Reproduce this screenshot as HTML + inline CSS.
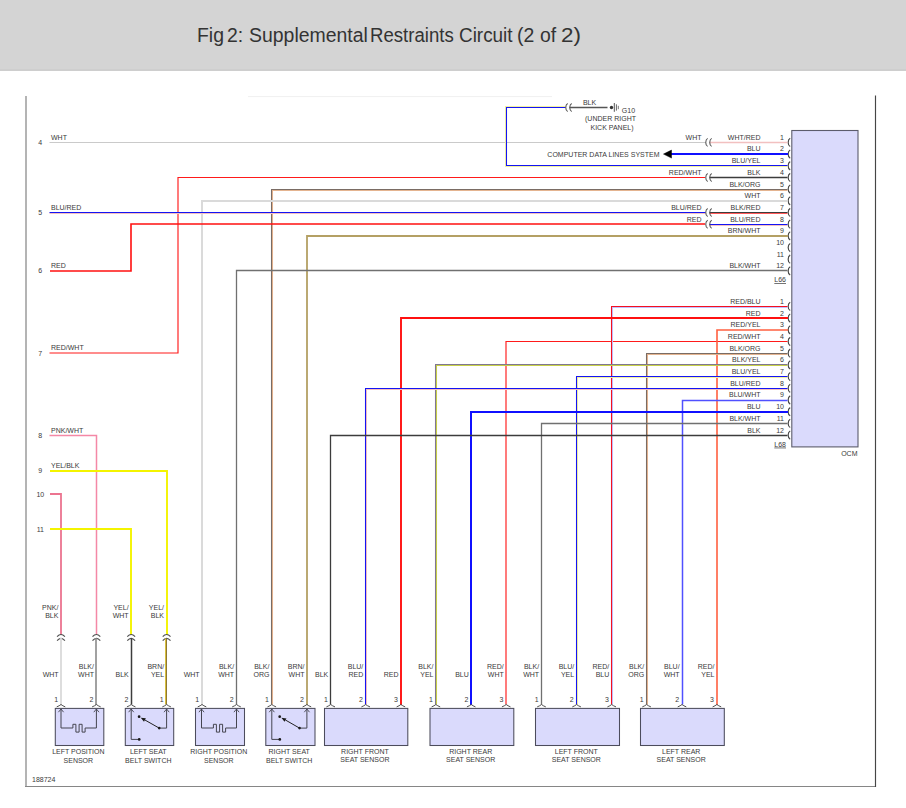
<!DOCTYPE html>
<html><head><meta charset="utf-8"><title>Fig 2: Supplemental Restraints Circuit (2 of 2)</title>
<style>
html,body{margin:0;padding:0;background:#fff;width:906px;height:808px;overflow:hidden}
.hdr{position:absolute;left:0;top:0;width:906px;height:71px;background:#d4d4d4;box-shadow:inset 0 -2px 0 #cecece}
.hdr h1{position:absolute;left:0;top:25px;margin:0;font:normal 20px/1 "Liberation Sans",sans-serif;color:#333;white-space:nowrap}
.hdr h1 span{position:absolute;top:0;transform:scaleX(0.945);transform-origin:0 0}
svg{position:absolute;left:0;top:0}
svg text{font-family:"Liberation Sans",sans-serif}
</style></head><body>
<div class="hdr"><h1><span style="left:197.2px;transform:scaleX(0.97)">Fig</span><span style="left:227.0px;transform:scaleX(0.97)">2:</span><span style="left:248.5px;transform:scaleX(0.972)">Supplemental</span><span style="left:370.0px;transform:scaleX(0.93)">Restraints</span><span style="left:458.8px;transform:scaleX(0.945)">Circuit</span><span style="left:516.5px;transform:scaleX(0.97)">(2</span><span style="left:539.5px;transform:scaleX(0.97)">of</span><span style="left:560.5px;transform:scaleX(1.12)">2)</span></h1></div>
<svg width="906" height="808" viewBox="0 0 906 808">
<line x1="26" y1="96" x2="26" y2="787" stroke="#b4b4b4" stroke-width="2"/>
<line x1="25" y1="786.5" x2="876" y2="786.5" stroke="#868686" stroke-width="1.2"/>
<line x1="875.5" y1="95.5" x2="875.5" y2="787" stroke="#464646" stroke-width="1.15"/>
<line x1="248" y1="96.6" x2="552" y2="96.6" stroke="#f0f0f0" stroke-width="1.0"/>
<rect x="791.8" y="130.5" width="66.2" height="316.4" fill="#dadafc" stroke="#5c5c6c" stroke-width="1.1"/>
<text x="857.5" y="456.2" text-anchor="end" font-size="7" fill="#3a3a3a" >OCM</text>
<text x="786" y="282.3" text-anchor="end" font-size="7" fill="#3a3a3a" text-decoration="underline">L66</text>
<text x="786" y="446.6" text-anchor="end" font-size="7" fill="#3a3a3a" text-decoration="underline">L68</text>
<path d="M790.2,138.30 A2.9,4.3 0 0,0 790.2,146.50" fill="none" stroke="#484848" stroke-width="1.2"/>
<text x="784" y="139.8" text-anchor="end" font-size="7" fill="#3a3a3a" >1</text>
<text x="760.5" y="139.8" text-anchor="end" font-size="7" fill="#3a3a3a" >WHT/RED</text>
<path d="M790.2,302.30 A2.9,4.3 0 0,0 790.2,310.50" fill="none" stroke="#484848" stroke-width="1.2"/>
<text x="784" y="303.79999999999995" text-anchor="end" font-size="7" fill="#3a3a3a" >1</text>
<text x="760.5" y="303.79999999999995" text-anchor="end" font-size="7" fill="#3a3a3a" >RED/BLU</text>
<path d="M790.2,149.98 A2.9,4.3 0 0,0 790.2,158.18" fill="none" stroke="#484848" stroke-width="1.2"/>
<text x="784" y="151.48000000000002" text-anchor="end" font-size="7" fill="#3a3a3a" >2</text>
<text x="760.5" y="151.48000000000002" text-anchor="end" font-size="7" fill="#3a3a3a" >BLU</text>
<path d="M790.2,314.00 A2.9,4.3 0 0,0 790.2,322.20" fill="none" stroke="#484848" stroke-width="1.2"/>
<text x="784" y="315.5" text-anchor="end" font-size="7" fill="#3a3a3a" >2</text>
<text x="760.5" y="315.5" text-anchor="end" font-size="7" fill="#3a3a3a" >RED</text>
<path d="M790.2,161.66 A2.9,4.3 0 0,0 790.2,169.86" fill="none" stroke="#484848" stroke-width="1.2"/>
<text x="784" y="163.16" text-anchor="end" font-size="7" fill="#3a3a3a" >3</text>
<text x="760.5" y="163.16" text-anchor="end" font-size="7" fill="#3a3a3a" >BLU/YEL</text>
<path d="M790.2,325.70 A2.9,4.3 0 0,0 790.2,333.90" fill="none" stroke="#484848" stroke-width="1.2"/>
<text x="784" y="327.2" text-anchor="end" font-size="7" fill="#3a3a3a" >3</text>
<text x="760.5" y="327.2" text-anchor="end" font-size="7" fill="#3a3a3a" >RED/YEL</text>
<path d="M790.2,173.34 A2.9,4.3 0 0,0 790.2,181.54" fill="none" stroke="#484848" stroke-width="1.2"/>
<text x="784" y="174.84" text-anchor="end" font-size="7" fill="#3a3a3a" >4</text>
<text x="760.5" y="174.84" text-anchor="end" font-size="7" fill="#3a3a3a" >BLK</text>
<path d="M790.2,337.40 A2.9,4.3 0 0,0 790.2,345.60" fill="none" stroke="#484848" stroke-width="1.2"/>
<text x="784" y="338.9" text-anchor="end" font-size="7" fill="#3a3a3a" >4</text>
<text x="760.5" y="338.9" text-anchor="end" font-size="7" fill="#3a3a3a" >RED/WHT</text>
<path d="M790.2,185.02 A2.9,4.3 0 0,0 790.2,193.22" fill="none" stroke="#484848" stroke-width="1.2"/>
<text x="784" y="186.52" text-anchor="end" font-size="7" fill="#3a3a3a" >5</text>
<text x="760.5" y="186.52" text-anchor="end" font-size="7" fill="#3a3a3a" >BLK/ORG</text>
<path d="M790.2,349.10 A2.9,4.3 0 0,0 790.2,357.30" fill="none" stroke="#484848" stroke-width="1.2"/>
<text x="784" y="350.59999999999997" text-anchor="end" font-size="7" fill="#3a3a3a" >5</text>
<text x="760.5" y="350.59999999999997" text-anchor="end" font-size="7" fill="#3a3a3a" >BLK/ORG</text>
<path d="M790.2,196.70 A2.9,4.3 0 0,0 790.2,204.90" fill="none" stroke="#484848" stroke-width="1.2"/>
<text x="784" y="198.20000000000002" text-anchor="end" font-size="7" fill="#3a3a3a" >6</text>
<text x="760.5" y="198.20000000000002" text-anchor="end" font-size="7" fill="#3a3a3a" >WHT</text>
<path d="M790.2,360.80 A2.9,4.3 0 0,0 790.2,369.00" fill="none" stroke="#484848" stroke-width="1.2"/>
<text x="784" y="362.29999999999995" text-anchor="end" font-size="7" fill="#3a3a3a" >6</text>
<text x="760.5" y="362.29999999999995" text-anchor="end" font-size="7" fill="#3a3a3a" >BLK/YEL</text>
<path d="M790.2,208.38 A2.9,4.3 0 0,0 790.2,216.58" fill="none" stroke="#484848" stroke-width="1.2"/>
<text x="784" y="209.88" text-anchor="end" font-size="7" fill="#3a3a3a" >7</text>
<text x="760.5" y="209.88" text-anchor="end" font-size="7" fill="#3a3a3a" >BLK/RED</text>
<path d="M790.2,372.50 A2.9,4.3 0 0,0 790.2,380.70" fill="none" stroke="#484848" stroke-width="1.2"/>
<text x="784" y="374.0" text-anchor="end" font-size="7" fill="#3a3a3a" >7</text>
<text x="760.5" y="374.0" text-anchor="end" font-size="7" fill="#3a3a3a" >BLU/YEL</text>
<path d="M790.2,220.06 A2.9,4.3 0 0,0 790.2,228.26" fill="none" stroke="#484848" stroke-width="1.2"/>
<text x="784" y="221.56" text-anchor="end" font-size="7" fill="#3a3a3a" >8</text>
<text x="760.5" y="221.56" text-anchor="end" font-size="7" fill="#3a3a3a" >BLU/RED</text>
<path d="M790.2,384.20 A2.9,4.3 0 0,0 790.2,392.40" fill="none" stroke="#484848" stroke-width="1.2"/>
<text x="784" y="385.7" text-anchor="end" font-size="7" fill="#3a3a3a" >8</text>
<text x="760.5" y="385.7" text-anchor="end" font-size="7" fill="#3a3a3a" >BLU/RED</text>
<path d="M790.2,231.74 A2.9,4.3 0 0,0 790.2,239.94" fill="none" stroke="#484848" stroke-width="1.2"/>
<text x="784" y="233.24" text-anchor="end" font-size="7" fill="#3a3a3a" >9</text>
<text x="760.5" y="233.24" text-anchor="end" font-size="7" fill="#3a3a3a" >BRN/WHT</text>
<path d="M790.2,395.90 A2.9,4.3 0 0,0 790.2,404.10" fill="none" stroke="#484848" stroke-width="1.2"/>
<text x="784" y="397.4" text-anchor="end" font-size="7" fill="#3a3a3a" >9</text>
<text x="760.5" y="397.4" text-anchor="end" font-size="7" fill="#3a3a3a" >BLU/WHT</text>
<path d="M790.2,243.42 A2.9,4.3 0 0,0 790.2,251.62" fill="none" stroke="#484848" stroke-width="1.2"/>
<text x="784" y="244.92000000000002" text-anchor="end" font-size="7" fill="#3a3a3a" >10</text>
<path d="M790.2,407.60 A2.9,4.3 0 0,0 790.2,415.80" fill="none" stroke="#484848" stroke-width="1.2"/>
<text x="784" y="409.09999999999997" text-anchor="end" font-size="7" fill="#3a3a3a" >10</text>
<text x="760.5" y="409.09999999999997" text-anchor="end" font-size="7" fill="#3a3a3a" >BLU</text>
<path d="M790.2,255.10 A2.9,4.3 0 0,0 790.2,263.30" fill="none" stroke="#484848" stroke-width="1.2"/>
<text x="784" y="256.59999999999997" text-anchor="end" font-size="7" fill="#3a3a3a" >11</text>
<path d="M790.2,419.30 A2.9,4.3 0 0,0 790.2,427.50" fill="none" stroke="#484848" stroke-width="1.2"/>
<text x="784" y="420.79999999999995" text-anchor="end" font-size="7" fill="#3a3a3a" >11</text>
<text x="760.5" y="420.79999999999995" text-anchor="end" font-size="7" fill="#3a3a3a" >BLK/WHT</text>
<path d="M790.2,266.78 A2.9,4.3 0 0,0 790.2,274.98" fill="none" stroke="#484848" stroke-width="1.2"/>
<text x="784" y="268.28" text-anchor="end" font-size="7" fill="#3a3a3a" >12</text>
<text x="760.5" y="268.28" text-anchor="end" font-size="7" fill="#3a3a3a" >BLK/WHT</text>
<path d="M790.2,431.00 A2.9,4.3 0 0,0 790.2,439.20" fill="none" stroke="#484848" stroke-width="1.2"/>
<text x="784" y="432.5" text-anchor="end" font-size="7" fill="#3a3a3a" >12</text>
<text x="760.5" y="432.5" text-anchor="end" font-size="7" fill="#3a3a3a" >BLK</text>
<polyline points="709.5,142.5 787.5,142.5" fill="none" stroke="#f2c0c0" stroke-width="1.5"/>
<polyline points="49.5,142.5 705.5,142.5" fill="none" stroke="#cacaca" stroke-width="1.2"/>
<path d="M707.70,138.40 A2.8,4.2 0 0,0 707.70,146.40" fill="none" stroke="#505050" stroke-width="1.05"/>
<path d="M711.70,138.40 A2.8,4.2 0 0,0 711.70,146.40" fill="none" stroke="#505050" stroke-width="1.05"/>
<text x="701.5" y="139.8" text-anchor="end" font-size="7" fill="#3a3a3a" >WHT</text>
<polyline points="668,154 788,154" fill="none" stroke="#1010ff" stroke-width="2.0"/>
<path d="M663.5,154.08 L671.5,150.08 L671.5,158.08 Z" fill="#000" stroke="#000" stroke-width="0.5"/>
<text x="659.5" y="156.68" text-anchor="end" font-size="7" fill="#3a3a3a" >COMPUTER DATA LINES SYSTEM</text>
<polyline points="787.5,166.5 505.5,166.5 505.5,106.5 565.5,106.5" fill="none" stroke="#f0f0a0" stroke-width="1.05"/>
<polyline points="787.5,165.5 506.5,165.5 506.5,107.5 565.5,107.5" fill="none" stroke="#1414f4" stroke-width="1.05"/>
<path d="M567.70,103.50 A2.8,4.2 0 0,0 567.70,111.50" fill="none" stroke="#505050" stroke-width="1.05"/>
<path d="M571.70,103.50 A2.8,4.2 0 0,0 571.70,111.50" fill="none" stroke="#505050" stroke-width="1.05"/>
<polyline points="569.5,107.5 607.5,107.5" fill="none" stroke="#555" stroke-width="1.3"/>
<circle cx="611.5" cy="107.5" r="1.7" fill="#333"/>
<line x1="614.3" y1="103.0" x2="614.3" y2="111.8" stroke="#555" stroke-width="1.0"/>
<line x1="616.4" y1="104.3" x2="616.4" y2="110.6" stroke="#666" stroke-width="1.0"/>
<line x1="618.3" y1="105.8" x2="618.3" y2="109.2" stroke="#777" stroke-width="1.0"/>
<text x="589.5" y="105.2" text-anchor="middle" font-size="7" fill="#3a3a3a" >BLK</text>
<text x="621.8" y="113.2" text-anchor="start" font-size="7" fill="#3a3a3a" >G10</text>
<text x="610.5" y="121.2" text-anchor="middle" font-size="7" fill="#3a3a3a" >(UNDER RIGHT</text>
<text x="612" y="130" text-anchor="middle" font-size="7" fill="#3a3a3a" >KICK PANEL)</text>
<polyline points="709.5,177.5 787.5,177.5" fill="none" stroke="#3c3c3c" stroke-width="1.4"/>
<polyline points="705,177.5 178.0,177.5 178.0,353.0 49.5,353.0" fill="none" stroke="#ff1a1a" stroke-width="1.15"/>
<path d="M707.70,173.44 A2.8,4.2 0 0,0 707.70,181.44" fill="none" stroke="#505050" stroke-width="1.05"/>
<path d="M711.70,173.44 A2.8,4.2 0 0,0 711.70,181.44" fill="none" stroke="#505050" stroke-width="1.05"/>
<text x="701.5" y="174.84" text-anchor="end" font-size="7" fill="#3a3a3a" >RED/WHT</text>
<polyline points="787.5,190.5 272.5,190.5 272.5,704.5" fill="none" stroke="#e4b490" stroke-width="1.05"/>
<polyline points="787.5,189.5 271.5,189.5 271.5,704.5" fill="none" stroke="#7a6c64" stroke-width="1.05"/>
<polyline points="788,201 202,201 202,705" fill="none" stroke="#dadada" stroke-width="2.0"/>
<polyline points="787.5,213.5 709.5,213.5" fill="none" stroke="#ff5a5a" stroke-width="1.05"/>
<polyline points="787.5,212.5 709.5,212.5" fill="none" stroke="#3c3c3c" stroke-width="1.05"/>
<polyline points="705.5,213.5 49.5,213.5" fill="none" stroke="#f4c0c0" stroke-width="1.05"/>
<polyline points="705.5,212.5 49.5,212.5" fill="none" stroke="#1414f4" stroke-width="1.05"/>
<path d="M707.70,208.48 A2.8,4.2 0 0,0 707.70,216.48" fill="none" stroke="#505050" stroke-width="1.05"/>
<path d="M711.70,208.48 A2.8,4.2 0 0,0 711.70,216.48" fill="none" stroke="#505050" stroke-width="1.05"/>
<text x="701.5" y="209.88" text-anchor="end" font-size="7" fill="#3a3a3a" >BLU/RED</text>
<polyline points="787.5,225.5 709.5,225.5" fill="none" stroke="#f4c0c0" stroke-width="1.05"/>
<polyline points="787.5,224.5 709.5,224.5" fill="none" stroke="#1414f4" stroke-width="1.05"/>
<polyline points="705,224 131,224 131,271 50,271" fill="none" stroke="#ff1010" stroke-width="1.6"/>
<path d="M707.70,220.16 A2.8,4.2 0 0,0 707.70,228.16" fill="none" stroke="#505050" stroke-width="1.05"/>
<path d="M711.70,220.16 A2.8,4.2 0 0,0 711.70,228.16" fill="none" stroke="#505050" stroke-width="1.05"/>
<text x="701.5" y="221.56" text-anchor="end" font-size="7" fill="#3a3a3a" >RED</text>
<polyline points="788,236 307,236 307,705" fill="none" stroke="#b4a064" stroke-width="1.8"/>
<polyline points="787.5,270.5 236.5,270.5 236.5,704.5" fill="none" stroke="#707070" stroke-width="1.3"/>
<polyline points="787.5,341.5 506.0,341.5 506.0,704.6" fill="none" stroke="#ff1a1a" stroke-width="1.15"/>
<polyline points="787.5,307.5 612.5,307.5 612.5,704.5" fill="none" stroke="#c0c0ff" stroke-width="1.05"/>
<polyline points="787.5,306.5 611.5,306.5 611.5,704.5" fill="none" stroke="#f41020" stroke-width="1.05"/>
<polyline points="788,318 401,318 401,705" fill="none" stroke="#ff1010" stroke-width="1.9"/>
<polyline points="788,330 717,330 717,705" fill="none" stroke="#ff6040" stroke-width="1.6"/>
<polyline points="787.5,354.5 647.5,354.5 647.5,704.5" fill="none" stroke="#e4b490" stroke-width="1.05"/>
<polyline points="787.5,353.5 646.5,353.5 646.5,704.5" fill="none" stroke="#7a6c64" stroke-width="1.05"/>
<polyline points="787.5,365.5 436.5,365.5 436.5,704.5" fill="none" stroke="#c8d048" stroke-width="1.05"/>
<polyline points="787.5,364.5 435.5,364.5 435.5,704.5" fill="none" stroke="#807890" stroke-width="1.05"/>
<polyline points="787.5,377.5 577.5,377.5 577.5,704.5" fill="none" stroke="#f0f0a0" stroke-width="1.05"/>
<polyline points="787.5,376.5 576.5,376.5 576.5,704.5" fill="none" stroke="#1414f4" stroke-width="1.05"/>
<polyline points="787.5,389.5 366.5,389.5 366.5,704.5" fill="none" stroke="#f4c0c0" stroke-width="1.05"/>
<polyline points="787.5,388.5 365.5,388.5 365.5,704.5" fill="none" stroke="#1414f4" stroke-width="1.05"/>
<polyline points="787.5,400.5 682.5,400.5 682.5,704.5" fill="none" stroke="#5050ff" stroke-width="1.5"/>
<polyline points="788,412 471,412 471,705" fill="none" stroke="#1010ff" stroke-width="2.0"/>
<polyline points="787.5,423.5 541.5,423.5 541.5,704.5" fill="none" stroke="#707070" stroke-width="1.3"/>
<polyline points="787.5,435.5 330.5,435.5 330.5,704.5" fill="none" stroke="#3c3c3c" stroke-width="1.3"/>
<text x="40.3" y="145.0" text-anchor="middle" font-size="7" fill="#3a3a3a" >4</text>
<text x="51" y="139.8" text-anchor="start" font-size="7" fill="#3a3a3a" >WHT</text>
<text x="40.3" y="215.07999999999998" text-anchor="middle" font-size="7" fill="#3a3a3a" >5</text>
<text x="51" y="209.88" text-anchor="start" font-size="7" fill="#3a3a3a" >BLU/RED</text>
<text x="40.3" y="273.40000000000003" text-anchor="middle" font-size="7" fill="#3a3a3a" >6</text>
<text x="51" y="268.2" text-anchor="start" font-size="7" fill="#3a3a3a" >RED</text>
<text x="40.3" y="355.6" text-anchor="middle" font-size="7" fill="#3a3a3a" >7</text>
<text x="51" y="350.4" text-anchor="start" font-size="7" fill="#3a3a3a" >RED/WHT</text>
<text x="40.3" y="437.90000000000003" text-anchor="middle" font-size="7" fill="#3a3a3a" >8</text>
<text x="51" y="432.7" text-anchor="start" font-size="7" fill="#3a3a3a" >PNK/WHT</text>
<text x="40.3" y="473.1" text-anchor="middle" font-size="7" fill="#3a3a3a" >9</text>
<text x="51" y="467.9" text-anchor="start" font-size="7" fill="#3a3a3a" >YEL/BLK</text>
<text x="40.3" y="496.6" text-anchor="middle" font-size="7" fill="#3a3a3a" >10</text>
<text x="40.3" y="531.8000000000001" text-anchor="middle" font-size="7" fill="#3a3a3a" >11</text>
<polyline points="49.5,435.5 96.5,435.5 96.5,634.5" fill="none" stroke="#f488a6" stroke-width="1.5"/>
<polyline points="50,471 167,471 167,635" fill="none" stroke="#f4f400" stroke-width="1.9"/>
<polyline points="50,494 61,494 61,635" fill="none" stroke="#ec7490" stroke-width="1.8"/>
<polyline points="50,529 131,529 131,635" fill="none" stroke="#f4f400" stroke-width="1.9"/>
<path d="M57.1,636.7 Q61.0,632.3 64.9,636.7" fill="none" stroke="#505050" stroke-width="1.15"/>
<path d="M57.1,640.6 Q61.0,636.0 64.9,640.6" fill="none" stroke="#505050" stroke-width="1.15"/>
<path d="M92.5,636.7 Q96.4,632.3 100.30000000000001,636.7" fill="none" stroke="#505050" stroke-width="1.15"/>
<path d="M92.5,640.6 Q96.4,636.0 100.30000000000001,640.6" fill="none" stroke="#505050" stroke-width="1.15"/>
<path d="M127.29999999999998,636.7 Q131.2,632.3 135.1,636.7" fill="none" stroke="#505050" stroke-width="1.15"/>
<path d="M127.29999999999998,640.6 Q131.2,636.0 135.1,640.6" fill="none" stroke="#505050" stroke-width="1.15"/>
<path d="M162.7,636.7 Q166.6,632.3 170.5,636.7" fill="none" stroke="#505050" stroke-width="1.15"/>
<path d="M162.7,640.6 Q166.6,636.0 170.5,640.6" fill="none" stroke="#505050" stroke-width="1.15"/>
<polyline points="61,638 61,705" fill="none" stroke="#dadada" stroke-width="1.8"/>
<polyline points="96,638 96,705" fill="none" stroke="#8a8a8a" stroke-width="1.6"/>
<polyline points="131.5,638.5 131.5,704.5" fill="none" stroke="#3c3c3c" stroke-width="1.5"/>
<polyline points="165.5,704.5 165.5,638.5" fill="none" stroke="#d8c040" stroke-width="1.05"/>
<polyline points="166.5,704.5 166.5,638.5" fill="none" stroke="#907830" stroke-width="1.05"/>
<text x="58.4" y="610.2" text-anchor="end" font-size="7" fill="#3a3a3a" >PNK/</text>
<text x="58.4" y="618.2" text-anchor="end" font-size="7" fill="#3a3a3a" >BLK</text>
<text x="128.6" y="610.2" text-anchor="end" font-size="7" fill="#3a3a3a" >YEL/</text>
<text x="128.6" y="618.2" text-anchor="end" font-size="7" fill="#3a3a3a" >WHT</text>
<text x="164.0" y="610.2" text-anchor="end" font-size="7" fill="#3a3a3a" >YEL/</text>
<text x="164.0" y="618.2" text-anchor="end" font-size="7" fill="#3a3a3a" >BLK</text>
<text x="58.6" y="677.2" text-anchor="end" font-size="7" fill="#3a3a3a" >WHT</text>
<text x="58.1" y="702" text-anchor="end" font-size="7" fill="#3a3a3a" >1</text>
<path d="M56.7,706.9 Q59.4,705.8 61.0,704.5 Q62.6,705.8 65.3,706.9" fill="none" stroke="#505050" stroke-width="1.0"/>
<text x="94.0" y="669.3" text-anchor="end" font-size="7" fill="#3a3a3a" >BLK/</text>
<text x="94.0" y="677.2" text-anchor="end" font-size="7" fill="#3a3a3a" >WHT</text>
<text x="93.5" y="702" text-anchor="end" font-size="7" fill="#3a3a3a" >2</text>
<path d="M92.10000000000001,706.9 Q94.80000000000001,705.8 96.4,704.5 Q98.0,705.8 100.7,706.9" fill="none" stroke="#505050" stroke-width="1.0"/>
<text x="128.79999999999998" y="677.2" text-anchor="end" font-size="7" fill="#3a3a3a" >BLK</text>
<text x="128.29999999999998" y="702" text-anchor="end" font-size="7" fill="#3a3a3a" >2</text>
<path d="M126.89999999999999,706.9 Q129.6,705.8 131.2,704.5 Q132.79999999999998,705.8 135.5,706.9" fill="none" stroke="#505050" stroke-width="1.0"/>
<text x="164.2" y="669.3" text-anchor="end" font-size="7" fill="#3a3a3a" >BRN/</text>
<text x="164.2" y="677.2" text-anchor="end" font-size="7" fill="#3a3a3a" >YEL</text>
<text x="163.7" y="702" text-anchor="end" font-size="7" fill="#3a3a3a" >1</text>
<path d="M162.29999999999998,706.9 Q165.0,705.8 166.6,704.5 Q168.2,705.8 170.9,706.9" fill="none" stroke="#505050" stroke-width="1.0"/>
<text x="199.6" y="677.2" text-anchor="end" font-size="7" fill="#3a3a3a" >WHT</text>
<text x="199.1" y="702" text-anchor="end" font-size="7" fill="#3a3a3a" >1</text>
<path d="M197.7,706.9 Q200.4,705.8 202.0,704.5 Q203.6,705.8 206.3,706.9" fill="none" stroke="#505050" stroke-width="1.0"/>
<text x="234.1" y="669.3" text-anchor="end" font-size="7" fill="#3a3a3a" >BLK/</text>
<text x="234.1" y="677.2" text-anchor="end" font-size="7" fill="#3a3a3a" >WHT</text>
<text x="233.6" y="702" text-anchor="end" font-size="7" fill="#3a3a3a" >2</text>
<path d="M232.2,706.9 Q234.9,705.8 236.5,704.5 Q238.1,705.8 240.8,706.9" fill="none" stroke="#505050" stroke-width="1.0"/>
<text x="269.40000000000003" y="669.3" text-anchor="end" font-size="7" fill="#3a3a3a" >BLK/</text>
<text x="269.40000000000003" y="677.2" text-anchor="end" font-size="7" fill="#3a3a3a" >ORG</text>
<text x="268.90000000000003" y="702" text-anchor="end" font-size="7" fill="#3a3a3a" >1</text>
<path d="M267.5,706.9 Q270.2,705.8 271.8,704.5 Q273.40000000000003,705.8 276.1,706.9" fill="none" stroke="#505050" stroke-width="1.0"/>
<text x="304.5" y="669.3" text-anchor="end" font-size="7" fill="#3a3a3a" >BRN/</text>
<text x="304.5" y="677.2" text-anchor="end" font-size="7" fill="#3a3a3a" >WHT</text>
<text x="304.0" y="702" text-anchor="end" font-size="7" fill="#3a3a3a" >2</text>
<path d="M302.59999999999997,706.9 Q305.29999999999995,705.8 306.9,704.5 Q308.5,705.8 311.2,706.9" fill="none" stroke="#505050" stroke-width="1.0"/>
<text x="328.3" y="677.2" text-anchor="end" font-size="7" fill="#3a3a3a" >BLK</text>
<text x="327.8" y="702" text-anchor="end" font-size="7" fill="#3a3a3a" >1</text>
<path d="M326.4,706.9 Q329.09999999999997,705.8 330.7,704.5 Q332.3,705.8 335.0,706.9" fill="none" stroke="#505050" stroke-width="1.0"/>
<text x="363.3" y="669.3" text-anchor="end" font-size="7" fill="#3a3a3a" >BLU/</text>
<text x="363.3" y="677.2" text-anchor="end" font-size="7" fill="#3a3a3a" >RED</text>
<text x="362.8" y="702" text-anchor="end" font-size="7" fill="#3a3a3a" >2</text>
<path d="M361.4,706.9 Q364.09999999999997,705.8 365.7,704.5 Q367.3,705.8 370.0,706.9" fill="none" stroke="#505050" stroke-width="1.0"/>
<text x="398.5" y="677.2" text-anchor="end" font-size="7" fill="#3a3a3a" >RED</text>
<text x="398.0" y="702" text-anchor="end" font-size="7" fill="#3a3a3a" >3</text>
<path d="M396.59999999999997,706.9 Q399.29999999999995,705.8 400.9,704.5 Q402.5,705.8 405.2,706.9" fill="none" stroke="#505050" stroke-width="1.0"/>
<text x="433.5" y="669.3" text-anchor="end" font-size="7" fill="#3a3a3a" >BLK/</text>
<text x="433.5" y="677.2" text-anchor="end" font-size="7" fill="#3a3a3a" >YEL</text>
<text x="433.0" y="702" text-anchor="end" font-size="7" fill="#3a3a3a" >1</text>
<path d="M431.59999999999997,706.9 Q434.29999999999995,705.8 435.9,704.5 Q437.5,705.8 440.2,706.9" fill="none" stroke="#505050" stroke-width="1.0"/>
<text x="468.8" y="677.2" text-anchor="end" font-size="7" fill="#3a3a3a" >BLU</text>
<text x="468.3" y="702" text-anchor="end" font-size="7" fill="#3a3a3a" >2</text>
<path d="M466.9,706.9 Q469.59999999999997,705.8 471.2,704.5 Q472.8,705.8 475.5,706.9" fill="none" stroke="#505050" stroke-width="1.0"/>
<text x="503.8" y="669.3" text-anchor="end" font-size="7" fill="#3a3a3a" >RED/</text>
<text x="503.8" y="677.2" text-anchor="end" font-size="7" fill="#3a3a3a" >WHT</text>
<text x="503.3" y="702" text-anchor="end" font-size="7" fill="#3a3a3a" >3</text>
<path d="M501.9,706.9 Q504.59999999999997,705.8 506.2,704.5 Q507.8,705.8 510.5,706.9" fill="none" stroke="#505050" stroke-width="1.0"/>
<text x="539.1" y="669.3" text-anchor="end" font-size="7" fill="#3a3a3a" >BLK/</text>
<text x="539.1" y="677.2" text-anchor="end" font-size="7" fill="#3a3a3a" >WHT</text>
<text x="538.6" y="702" text-anchor="end" font-size="7" fill="#3a3a3a" >1</text>
<path d="M537.2,706.9 Q539.9,705.8 541.5,704.5 Q543.1,705.8 545.8,706.9" fill="none" stroke="#505050" stroke-width="1.0"/>
<text x="574.2" y="669.3" text-anchor="end" font-size="7" fill="#3a3a3a" >BLU/</text>
<text x="574.2" y="677.2" text-anchor="end" font-size="7" fill="#3a3a3a" >YEL</text>
<text x="573.7" y="702" text-anchor="end" font-size="7" fill="#3a3a3a" >2</text>
<path d="M572.3000000000001,706.9 Q575.0,705.8 576.6,704.5 Q578.2,705.8 580.9,706.9" fill="none" stroke="#505050" stroke-width="1.0"/>
<text x="609.3000000000001" y="669.3" text-anchor="end" font-size="7" fill="#3a3a3a" >RED/</text>
<text x="609.3000000000001" y="677.2" text-anchor="end" font-size="7" fill="#3a3a3a" >BLU</text>
<text x="608.8000000000001" y="702" text-anchor="end" font-size="7" fill="#3a3a3a" >3</text>
<path d="M607.4000000000001,706.9 Q610.1,705.8 611.7,704.5 Q613.3000000000001,705.8 616.0,706.9" fill="none" stroke="#505050" stroke-width="1.0"/>
<text x="644.2" y="669.3" text-anchor="end" font-size="7" fill="#3a3a3a" >BLK/</text>
<text x="644.2" y="677.2" text-anchor="end" font-size="7" fill="#3a3a3a" >ORG</text>
<text x="643.7" y="702" text-anchor="end" font-size="7" fill="#3a3a3a" >1</text>
<path d="M642.3000000000001,706.9 Q645.0,705.8 646.6,704.5 Q648.2,705.8 650.9,706.9" fill="none" stroke="#505050" stroke-width="1.0"/>
<text x="679.6" y="669.3" text-anchor="end" font-size="7" fill="#3a3a3a" >BLU/</text>
<text x="679.6" y="677.2" text-anchor="end" font-size="7" fill="#3a3a3a" >WHT</text>
<text x="679.1" y="702" text-anchor="end" font-size="7" fill="#3a3a3a" >2</text>
<path d="M677.7,706.9 Q680.4,705.8 682.0,704.5 Q683.6,705.8 686.3,706.9" fill="none" stroke="#505050" stroke-width="1.0"/>
<text x="714.5" y="669.3" text-anchor="end" font-size="7" fill="#3a3a3a" >RED/</text>
<text x="714.5" y="677.2" text-anchor="end" font-size="7" fill="#3a3a3a" >YEL</text>
<text x="714.0" y="702" text-anchor="end" font-size="7" fill="#3a3a3a" >3</text>
<path d="M712.6,706.9 Q715.3,705.8 716.9,704.5 Q718.5,705.8 721.1999999999999,706.9" fill="none" stroke="#505050" stroke-width="1.0"/>
<rect x="55.3" y="708.4" width="48.5" height="37.1" fill="#dadafc" stroke="#4c4c5c" stroke-width="1.05"/>
<text x="78.35" y="753.6" text-anchor="middle" font-size="7" fill="#3a3a3a" >LEFT POSITION</text>
<text x="78.35" y="762.6" text-anchor="middle" font-size="7" fill="#3a3a3a" >SENSOR</text>
<rect x="125.3" y="708.4" width="48.4" height="37.1" fill="#dadafc" stroke="#4c4c5c" stroke-width="1.05"/>
<text x="148.3" y="753.6" text-anchor="middle" font-size="7" fill="#3a3a3a" >LEFT SEAT</text>
<text x="148.3" y="762.6" text-anchor="middle" font-size="7" fill="#3a3a3a" >BELT SWITCH</text>
<rect x="195.5" y="708.4" width="49.0" height="37.1" fill="#dadafc" stroke="#4c4c5c" stroke-width="1.05"/>
<text x="218.8" y="753.6" text-anchor="middle" font-size="7" fill="#3a3a3a" >RIGHT POSITION</text>
<text x="218.8" y="762.6" text-anchor="middle" font-size="7" fill="#3a3a3a" >SENSOR</text>
<rect x="265.8" y="708.4" width="49.2" height="37.1" fill="#dadafc" stroke="#4c4c5c" stroke-width="1.05"/>
<text x="289.2" y="753.6" text-anchor="middle" font-size="7" fill="#3a3a3a" >RIGHT SEAT</text>
<text x="289.2" y="762.6" text-anchor="middle" font-size="7" fill="#3a3a3a" >BELT SWITCH</text>
<rect x="324.5" y="708.4" width="83.3" height="37.1" fill="#dadafc" stroke="#4c4c5c" stroke-width="1.05"/>
<text x="364.95" y="754.2" text-anchor="middle" font-size="7" fill="#3a3a3a" >RIGHT FRONT</text>
<text x="364.95" y="762.2" text-anchor="middle" font-size="7" fill="#3a3a3a" >SEAT SENSOR</text>
<rect x="430.0" y="708.4" width="83.8" height="37.1" fill="#dadafc" stroke="#4c4c5c" stroke-width="1.05"/>
<text x="470.7" y="754.2" text-anchor="middle" font-size="7" fill="#3a3a3a" >RIGHT REAR</text>
<text x="470.7" y="762.2" text-anchor="middle" font-size="7" fill="#3a3a3a" >SEAT SENSOR</text>
<rect x="535.5" y="708.4" width="84.0" height="37.1" fill="#dadafc" stroke="#4c4c5c" stroke-width="1.05"/>
<text x="576.3" y="754.2" text-anchor="middle" font-size="7" fill="#3a3a3a" >LEFT FRONT</text>
<text x="576.3" y="762.2" text-anchor="middle" font-size="7" fill="#3a3a3a" >SEAT SENSOR</text>
<rect x="640.5" y="708.4" width="83.8" height="37.1" fill="#dadafc" stroke="#4c4c5c" stroke-width="1.05"/>
<text x="681.1999999999999" y="754.2" text-anchor="middle" font-size="7" fill="#3a3a3a" >LEFT REAR</text>
<text x="681.1999999999999" y="762.2" text-anchor="middle" font-size="7" fill="#3a3a3a" >SEAT SENSOR</text>
<path d="M61.0,709 L61.0,728 L72.9,728 L72.9,724.3 L75.9,724.3 L75.9,732.1 L79.1,732.1 L79.1,724.3 L82.1,724.3 L82.1,732.1 L85.1,732.1 L85.1,728 L96.4,728 L96.4,709" fill="none" stroke="#454550" stroke-width="1.0"/>
<path d="M58.4,712.2 L61.0,709 L63.6,712.2" fill="none" stroke="#454550" stroke-width="0.9"/>
<path d="M93.80000000000001,712.2 L96.4,709 L99.0,712.2" fill="none" stroke="#454550" stroke-width="0.9"/>
<path d="M131.2,709 L131.2,739.4 L139.2,739.4" fill="none" stroke="#454550" stroke-width="1.0"/>
<path d="M166.6,709 L166.6,728.1 L159.2,728.1" fill="none" stroke="#454550" stroke-width="1.0"/>
<circle cx="139.20" cy="739.4" r="1.35" fill="#1a1a1a"/>
<circle cx="159.20" cy="728.1" r="1.35" fill="#1a1a1a"/>
<circle cx="139.10" cy="716.7" r="1.35" fill="#1a1a1a"/>
<line x1="159.2" y1="728.1" x2="144.92790456335103" y2="720.0053787075723" stroke="#222" stroke-width="1.0"/>
<path d="M140.75,717.64 L143.99,721.66 L145.87,718.35 Z" fill="#1a1a1a"/>
<path d="M128.6,712.2 L131.2,709 L133.79999999999998,712.2" fill="none" stroke="#454550" stroke-width="0.9"/>
<path d="M164.0,712.2 L166.6,709 L169.2,712.2" fill="none" stroke="#454550" stroke-width="0.9"/>
<path d="M201.5,709 L201.5,728 L213.4,728 L213.4,724.3 L216.4,724.3 L216.4,732.1 L219.6,732.1 L219.6,724.3 L222.6,724.3 L222.6,732.1 L225.6,732.1 L225.6,728 L236.5,728 L236.5,709" fill="none" stroke="#454550" stroke-width="1.0"/>
<path d="M198.9,712.2 L201.5,709 L204.1,712.2" fill="none" stroke="#454550" stroke-width="0.9"/>
<path d="M233.9,712.2 L236.5,709 L239.1,712.2" fill="none" stroke="#454550" stroke-width="0.9"/>
<path d="M271.8,709 L271.8,739.4 L279.8,739.4" fill="none" stroke="#454550" stroke-width="1.0"/>
<path d="M306.9,709 L306.9,728.1 L299.5,728.1" fill="none" stroke="#454550" stroke-width="1.0"/>
<circle cx="279.80" cy="739.4" r="1.35" fill="#1a1a1a"/>
<circle cx="299.50" cy="728.1" r="1.35" fill="#1a1a1a"/>
<circle cx="279.70" cy="716.7" r="1.35" fill="#1a1a1a"/>
<line x1="299.5" y1="728.1" x2="285.5063704610569" y2="720.0430617806086" stroke="#222" stroke-width="1.0"/>
<path d="M281.35,717.65 L284.56,721.69 L286.45,718.40 Z" fill="#1a1a1a"/>
<path d="M269.2,712.2 L271.8,709 L274.40000000000003,712.2" fill="none" stroke="#454550" stroke-width="0.9"/>
<path d="M304.29999999999995,712.2 L306.9,709 L309.5,712.2" fill="none" stroke="#454550" stroke-width="0.9"/>
<text x="32" y="782.2" text-anchor="start" font-size="7" fill="#3a3a3a" >188724</text>
</svg>
</body></html>
